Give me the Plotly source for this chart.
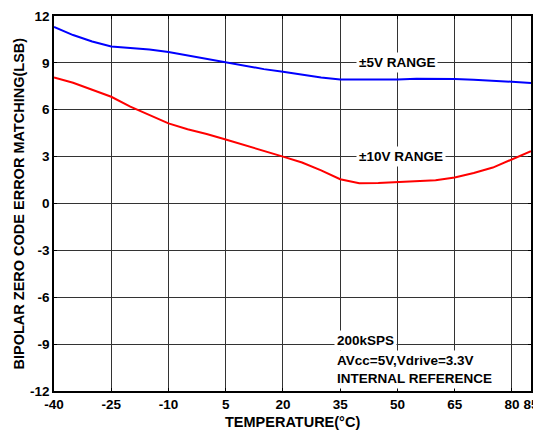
import plotly.graph_objects as go

temps = [-40, -35, -30, -25, -20, -15, -10, -5, 0, 5, 10, 15, 20, 25, 30, 35, 40, 45, 50, 55, 60, 65, 70, 75, 80, 85]
range_5v = [11.3, 10.78, 10.37, 10.05, 9.95, 9.85, 9.7, 9.48, 9.25, 9.0, 8.78, 8.6, 8.43, 8.23, 8.07, 7.94, 7.93, 7.93, 7.94, 7.98, 7.98, 7.97, 7.92, 7.87, 7.79, 7.72]
range_10v = [8.07, 7.73, 7.28, 6.83, 6.2, 5.65, 5.13, 4.75, 4.45, 4.1, 3.75, 3.4, 3.0, 2.62, 2.12, 1.55, 1.3, 1.32, 1.38, 1.43, 1.49, 1.66, 1.95, 2.3, 2.8, 3.35]

x_ticks = [-40, -25, -10, 5, 20, 35, 50, 65, 80, 85]
y_ticks = [-12, -9, -6, -3, 0, 3, 6, 9, 12]

x_title = "TEMPERATURE(°C)"
y_title = "BIPOLAR ZERO CODE ERROR MATCHING(LSB)"
label_5v = "±5V RANGE"
label_10v = "±10V RANGE"
notes = ["200kSPS", "AVcc=5V,Vdrive=3.3V", "INTERNAL REFERENCE"]

FONT = "Liberation Sans, Arial, sans-serif"

fig = go.Figure()
fig.add_trace(go.Scatter(x=temps, y=range_5v, mode="lines",
                         line=dict(color="#0000FF", width=2), showlegend=False))
fig.add_trace(go.Scatter(x=temps, y=range_10v, mode="lines",
                         line=dict(color="#FF0000", width=2), showlegend=False))

ann_font = dict(family=FONT, size=13.5, color="black", weight="bold")
fig.add_annotation(x=39.1, y=9, xref="x", yref="y", text=label_5v, showarrow=False,
                   xanchor="left", yanchor="middle", bgcolor="white", borderpad=2, font=ann_font)
fig.add_annotation(x=39.1, y=3, xref="x", yref="y", text=label_10v, showarrow=False,
                   xanchor="left", yanchor="middle", bgcolor="white", borderpad=2, font=ann_font)
for txt, yv in zip(notes, [-8.76, -10.04, -11.19]):
    fig.add_annotation(x=33.3, y=yv, xref="x", yref="y", text=txt, showarrow=False,
                       xanchor="left", yanchor="middle", bgcolor="white", borderpad=2, font=ann_font)

title_font = dict(family=FONT, size=14.5, color="black", weight="bold")
fig.add_annotation(x=0.5, y=0, xref="paper", yref="paper", text=x_title, showarrow=False,
                   xanchor="center", yanchor="middle", yshift=-31, font=title_font)
fig.add_annotation(x=0, y=0.5, xref="paper", yref="paper", text=y_title, showarrow=False,
                   textangle=-90, xanchor="center", yanchor="middle", xshift=-36, font=title_font)

axis_common = dict(
    showgrid=True, gridcolor="#333333", gridwidth=1,
    showline=True, linecolor="black", linewidth=1.5, mirror="ticks",
    ticks="inside", ticklen=3, tickcolor="black", tickwidth=1,
    zeroline=False, automargin=False,
    tickfont=dict(family=FONT, size=13.5, color="black", weight="bold"),
)

fig.update_xaxes(range=[-40, 85], tickvals=x_ticks, ticktext=[str(v) for v in x_ticks],
                 **axis_common)
fig.update_yaxes(range=[-12, 12], tickvals=y_ticks, ticktext=[str(v) for v in y_ticks],
                 **axis_common)

# the page body adds an 8px offset, so the figure is sized/margined to compensate
fig.update_layout(
    width=533, height=422,
    margin=dict(l=46, r=10, t=8, b=39),
    paper_bgcolor="white", plot_bgcolor="white",
    font=dict(family=FONT, color="black"),
)

fig.write_html("out.html")
